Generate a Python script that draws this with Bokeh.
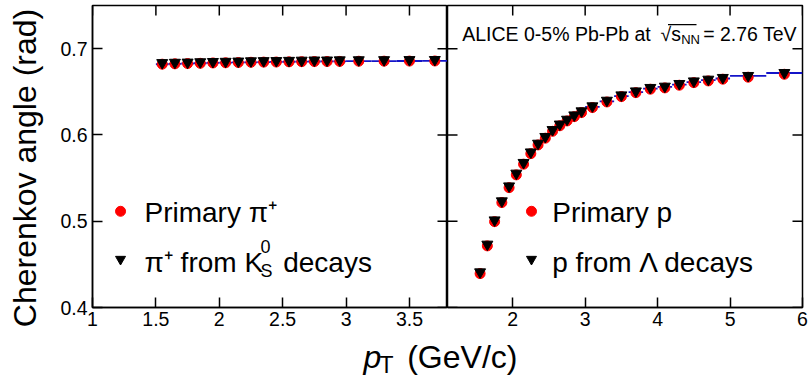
import numpy as np
from bokeh.plotting import figure
from bokeh.models import (Range1d, FixedTicker, NumeralTickFormatter, Label, BoxAnnotation)
from bokeh.layouts import row, column
from bokeh.embed import file_html
from bokeh.resources import INLINE

# ---------------- data ----------------
pi_pt = [1.55, 1.65, 1.75, 1.85, 1.95, 2.05, 2.15, 2.25, 2.35, 2.45, 2.55, 2.65,
         2.75, 2.85, 2.95, 3.1, 3.3, 3.5, 3.7]
pi_bin_lo = [1.5, 1.6, 1.7, 1.8, 1.9, 2.0, 2.1, 2.2, 2.3, 2.4, 2.5, 2.6,
             2.7, 2.8, 2.9, 3.0, 3.2, 3.4, 3.6]
pi_bin_hi = [1.6, 1.7, 1.8, 1.9, 2.0, 2.1, 2.2, 2.3, 2.4, 2.5, 2.6, 2.7,
             2.8, 2.9, 3.0, 3.2, 3.4, 3.6, 3.8]
pi_primary = [0.6820, 0.6824, 0.6827, 0.6830, 0.6834, 0.6836, 0.6839, 0.6842, 0.6844,
              0.6845, 0.6847, 0.6849, 0.6850, 0.6851, 0.6852, 0.6854, 0.6855, 0.6856, 0.6857]
pi_from_k0s = [0.6836, 0.6840, 0.6842, 0.6846, 0.6849, 0.6851, 0.6854, 0.6857, 0.6859,
               0.6860, 0.6862, 0.6864, 0.6866, 0.6866, 0.6868, 0.6869, 0.6870, 0.6871, 0.6872]
pi_expected = [0.6819, 0.6824, 0.6828, 0.6831, 0.6834, 0.6837, 0.6840, 0.6842, 0.6844,
               0.6846, 0.6848, 0.6849, 0.6851, 0.6852, 0.6853, 0.6855, 0.6856, 0.6857, 0.6858]

p_pt = [1.55, 1.65, 1.75, 1.85, 1.95, 2.05, 2.15, 2.25, 2.35, 2.45, 2.55, 2.65, 2.75,
        2.85, 2.95, 3.1, 3.3, 3.5, 3.7, 3.9, 4.1, 4.3, 4.5, 4.7, 4.9, 5.25, 5.75]
p_bin_lo = [1.5, 1.6, 1.7, 1.8, 1.9, 2.0, 2.1, 2.2, 2.3, 2.4, 2.5, 2.6, 2.7,
            2.8, 2.9, 3.0, 3.2, 3.4, 3.6, 3.8, 4.0, 4.2, 4.4, 4.6, 4.8, 5.0, 5.5]
p_bin_hi = [1.6, 1.7, 1.8, 1.9, 2.0, 2.1, 2.2, 2.3, 2.4, 2.5, 2.6, 2.7, 2.8,
            2.9, 3.0, 3.2, 3.4, 3.6, 3.8, 4.0, 4.2, 4.4, 4.6, 4.8, 5.0, 5.5, 6.0]
p_primary = [0.4393, 0.4714, 0.4995, 0.5216, 0.5389, 0.5537, 0.5661, 0.5783, 0.5884,
             0.5962, 0.6042, 0.6106, 0.6162, 0.6212, 0.6259, 0.6317, 0.6382, 0.6444,
             0.6490, 0.6530, 0.6545, 0.6576, 0.6606, 0.6626, 0.6646, 0.6669, 0.6703]
p_from_lambda = [0.4411, 0.4732, 0.5013, 0.5234, 0.5407, 0.5555, 0.5679, 0.5801, 0.5902,
                 0.5980, 0.6060, 0.6124, 0.6180, 0.6230, 0.6277, 0.6335, 0.6400, 0.6462,
                 0.6508, 0.6548, 0.6563, 0.6594, 0.6624, 0.6644, 0.6664, 0.6687, 0.6721]
p_expected = [0.4398, 0.4722, 0.5001, 0.5222, 0.5396, 0.5544, 0.5668, 0.5789, 0.5890,
              0.5970, 0.6049, 0.6113, 0.6170, 0.6219, 0.6266, 0.6324, 0.6389, 0.6450,
              0.6497, 0.6536, 0.6556, 0.6584, 0.6612, 0.6634, 0.6654, 0.6684, 0.6718]

x_left_ticks = [1, 1.5, 2, 2.5, 3, 3.5]
x_right_ticks = [2, 3, 4, 5, 6]
y_ticks = [0.4, 0.5, 0.6, 0.7]

# ---------------- styling ----------------
FONT = "Liberation Sans"
RED = "#ff0000"
BLUE = "#1414c8"
TICK_FS = "19.5px"
LEG_FS = "28px"
FRAME_W = 355.0
FRAME_H = 302.0
TICK_LEN = 10.0
DY = 8.0   # baseline correction for labels

y_range = Range1d(0.4, 0.75)


def style_axis(ax, ticks, fmt):
    ax.ticker = FixedTicker(ticks=ticks)
    ax.formatter = NumeralTickFormatter(format=fmt)
    ax.major_tick_in = 10
    ax.major_tick_out = 0
    ax.minor_tick_line_color = None
    ax.major_tick_line_color = "black"
    ax.major_tick_line_width = 1.5
    ax.axis_line_color = "black"
    ax.axis_line_width = 1.5
    ax.major_label_text_font = FONT
    ax.major_label_text_font_size = TICK_FS
    ax.major_label_text_color = "black"
    ax.major_label_standoff = 5


def make_panel(width, x_range, xticks, left_border, right_border, with_y_axis):
    p = figure(width=width, height=337, x_range=x_range, y_range=y_range,
               output_backend="svg", toolbar_location=None,
               y_axis_location="left" if with_y_axis else None,
               min_border_left=left_border, min_border_right=right_border,
               min_border_top=5, min_border_bottom=30,
               background_fill_color="white", border_fill_color="white",
               outline_line_color="black", outline_line_width=1.5)
    p.grid.visible = False
    style_axis(p.xaxis[0], xticks, "0.[0]")
    p.xaxis[0].major_label_standoff = 4
    if with_y_axis:
        style_axis(p.yaxis[0], y_ticks, "0.0")
    return p


def frame_ticks(p, xticks, sides):
    """Inward tick marks on the frame sides that carry no labelled axis."""
    xr, yr = p.x_range, p.y_range
    dx = TICK_LEN / FRAME_W * (xr.end - xr.start)
    dy = TICK_LEN / FRAME_H * (yr.end - yr.start)
    x0, x1, y0, y1 = [], [], [], []
    if "top" in sides:
        for t in xticks:
            x0.append(t); x1.append(t); y0.append(yr.end); y1.append(yr.end - dy)
    if "left" in sides:
        for t in y_ticks:
            x0.append(xr.start); x1.append(xr.start + dx); y0.append(t); y1.append(t)
    if "right" in sides:
        for t in y_ticks:
            x0.append(xr.end); x1.append(xr.end - dx); y0.append(t); y1.append(t)
    p.segment(x0=x0, x1=x1, y0=y0, y1=y1, line_color="black", line_width=1.5)


def add_series(p, pt, lo, hi, prim, sec, expct):
    p.segment(x0=lo, x1=hi, y0=expct, y1=expct, line_color=BLUE, line_width=1.8)
    p.scatter(pt, prim, marker="circle", size=10, fill_color=RED, line_color=RED)
    p.scatter(pt, sec, marker="inverted_triangle", size=11, fill_color="black",
              line_color="black")


def legend_marker(p, fx, fy, marker, color, size):
    xr, yr = p.x_range, p.y_range
    x = xr.start + fx * (xr.end - xr.start)
    y = yr.start + fy * (yr.end - yr.start)
    p.scatter([x], [y], marker=marker, size=size, fill_color=color, line_color=color)


def txt(p, x, y, text, size, style="normal", angle=0.0, align="left"):
    p.add_layout(Label(x=x, y=y, x_units="screen", y_units="screen", text=text,
                       text_font=FONT, text_font_size=size, text_font_style=style,
                       text_color="black", text_baseline="alphabetic",
                       text_align=align, angle=angle))


# ---------------- y axis title strip ----------------
p0 = figure(width=50, height=337, x_range=Range1d(0, 1), y_range=Range1d(0, 1),
            output_backend="svg", toolbar_location=None, min_border=0,
            x_axis_location=None, y_axis_location=None, outline_line_color=None)
p0.grid.visible = False
try:
    p0.frame_align = False
    Y_LABEL_Y = 169.5
except AttributeError:
    Y_LABEL_Y = 140
txt(p0, 24.5, Y_LABEL_Y, "Cherenkov angle (rad)", "32px", angle=np.pi / 2, align="center")

# ---------------- left panel: pions ----------------
p1 = make_panel(397, Range1d(1, 3.8), x_left_ticks, 42, 0, True)
frame_ticks(p1, x_left_ticks, ("top", "right"))
add_series(p1, pi_pt, pi_bin_lo, pi_bin_hi, pi_primary, pi_from_k0s, pi_expected)
legend_marker(p1, 0.079, 0.3186, "circle", RED, 10)
legend_marker(p1, 0.079, 0.1598, "inverted_triangle", "black", 10)
txt(p1, 52, 87.3 + DY, "Primary π⁺", LEG_FS)
txt(p1, 52, 37.3 + DY, "π⁺ from K", LEG_FS)
txt(p1, 168, 53.3 + DY, "0", "18px")
txt(p1, 168, 28.3 + DY, "S", "18px")
txt(p1, 190.7, 37.3 + DY, "decays", LEG_FS)

# ---------------- right panel: protons ----------------
p2 = make_panel(361, Range1d(1.1, 6.0), x_right_ticks, 0, 6, False)
frame_ticks(p2, x_right_ticks, ("top", "left", "right"))
add_series(p2, p_pt, p_bin_lo, p_bin_hi, p_primary, p_from_lambda, p_expected)
legend_marker(p2, 0.2366, 0.3186, "circle", RED, 10)
legend_marker(p2, 0.2366, 0.1598, "inverted_triangle", "black", 10)
txt(p2, 104.7, 87.3 + DY, "Primary p", LEG_FS)
txt(p2, 104.7, 37.3 + DY, "p from Λ decays", LEG_FS)
txt(p2, 14.7, 265.6 + DY, "ALICE 0-5% Pb-Pb at", "19.5px")
txt(p2, 213, 265.6 + DY, "√s", "19.5px")
txt(p2, 233.7, 260.3 + DY, "NN", "13px")
txt(p2, 255.7, 265.6 + DY, "= 2.76 TeV", "19.5px")
p2.add_layout(BoxAnnotation(left=220.5, right=249, bottom=282.3, top=283.6,
                            left_units="screen", right_units="screen",
                            bottom_units="screen", top_units="screen",
                            fill_color="black", fill_alpha=1.0, line_color=None))

# ---------------- x axis title strip ----------------
p3 = figure(width=808, height=48, x_range=Range1d(0, 1), y_range=Range1d(0, 1),
            output_backend="svg", toolbar_location=None, min_border=0,
            x_axis_location=None, y_axis_location=None, outline_line_color=None)
p3.grid.visible = False
txt(p3, 363, 21 + DY, "p", "32px", style="italic")
txt(p3, 379, 13 + DY, "T", "23px")
txt(p3, 406.7, 21 + DY, "(GeV/c)", "32px")

layout = column(row(p0, p1, p2, spacing=0), p3, spacing=0)
open("out.html", "w").write(file_html(layout, INLINE))
